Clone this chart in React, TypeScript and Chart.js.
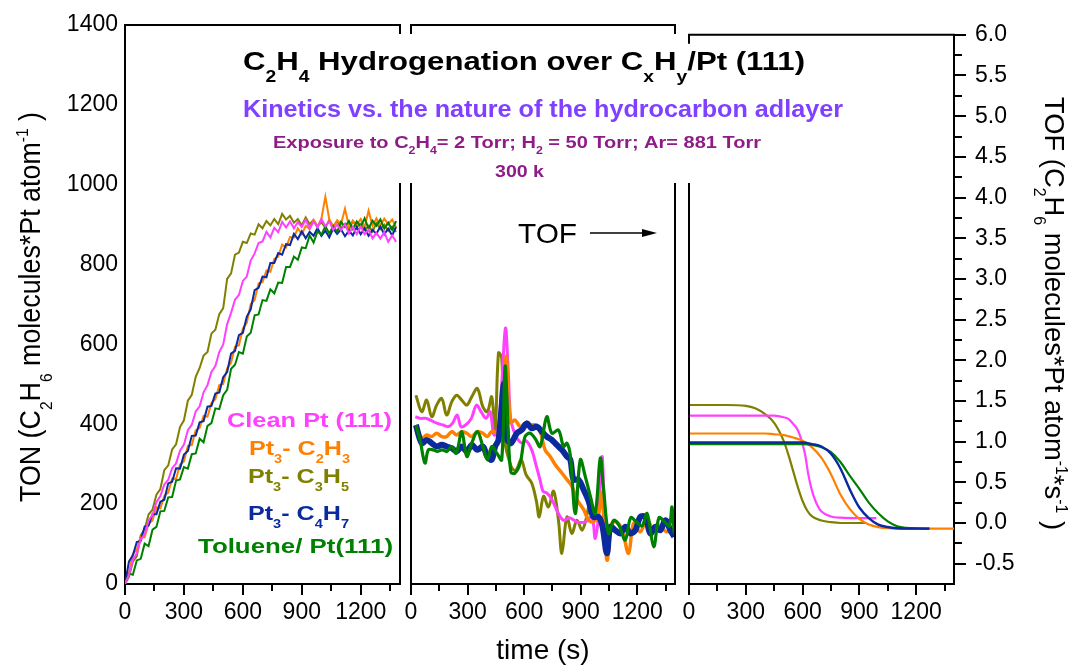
import React, { useEffect, useRef } from 'react';
import { Chart, registerables } from 'chart.js';

Chart.register(...registerables);

const FONT = "'Liberation Sans', Arial, sans-serif";
const W = 1078;
const H = 668;

// ---------------- colours ----------------
const C_CLEAN = '#ff40ff';
const C_C2H3 = '#ff8000';
const C_C3H5 = '#808000';
const C_C4H7 = '#0a2a9e';
const C_TOL = '#008000';

// ---------------- ticks ----------------
const timeTicks = [0, 300, 600, 900, 1200];
const timeMinorTicks = [150, 450, 750, 1050, 1350];
const tonTicks = [0, 200, 400, 600, 800, 1000, 1200, 1400];
const tofTicks = [-0.5, 0, 0.5, 1, 1.5, 2, 2.5, 3, 3.5, 4, 4.5, 5, 5.5, 6];
const tofMinorTicks = [-0.25, 0.25, 0.75, 1.25, 1.75, 2.25, 2.75, 3.25, 3.75, 4.25, 4.75, 5.25, 5.75];

// ---------------- left panel: TON vs time ----------------
const tonTime = [0, 20, 40, 60, 80, 100, 120, 140, 160, 180, 200, 220, 240, 260, 280, 300, 320, 340, 360, 380, 400, 420, 440, 460, 480, 500, 520, 540, 560, 580, 600, 620, 640, 660, 680, 700, 720, 740, 760, 780, 800, 820, 840, 860, 880, 900, 920, 940, 960, 980, 1000, 1020, 1040, 1060, 1080, 1100, 1120, 1140, 1160, 1180, 1200, 1220, 1240, 1260, 1280, 1300, 1320, 1340, 1360, 1380];
const tonC3H5 = [0, 18, 56, 69, 122, 137, 174, 186, 224, 238, 285, 297, 337, 350, 393, 410, 459, 474, 519, 541, 572, 581, 627, 637, 676, 691, 764, 778, 825, 830, 857, 854, 878, 875, 901, 891, 909, 898, 914, 901, 927, 913, 922, 905, 914, 898, 918, 901, 912, 896, 906, 892, 912, 896, 909, 892, 902, 887, 909, 894, 902, 887, 897, 883, 904, 889, 900, 885, 895, 882];
const tonClean = [0, 23, 61, 77, 112, 124, 159, 173, 205, 220, 249, 261, 290, 302, 334, 349, 385, 399, 432, 445, 480, 498, 531, 546, 581, 600, 651, 679, 712, 724, 759, 770, 810, 828, 854, 858, 882, 868, 892, 881, 907, 893, 908, 891, 906, 894, 912, 890, 908, 893, 914, 896, 908, 887, 900, 886, 902, 878, 894, 876, 895, 876, 887, 866, 879, 865, 881, 857, 873, 857];
const tonC4H7 = [0, 56, 72, 105, 108, 144, 146, 175, 175, 206, 211, 252, 256, 290, 289, 324, 333, 371, 372, 405, 408, 444, 446, 477, 480, 518, 531, 577, 584, 623, 629, 669, 688, 736, 742, 770, 768, 804, 804, 829, 825, 851, 849, 877, 864, 883, 866, 882, 872, 891, 872, 885, 868, 890, 877, 888, 871, 885, 873, 894, 876, 891, 872, 887, 877, 895, 876, 890, 873, 894];
const tonC2H3 = [0, 28, 75, 86, 118, 117, 151, 159, 192, 189, 221, 229, 264, 263, 299, 307, 346, 348, 385, 391, 421, 419, 453, 463, 498, 501, 540, 554, 594, 598, 640, 654, 701, 711, 753, 756, 785, 782, 814, 820, 850, 843, 869, 868, 891, 876, 897, 889, 911, 895, 915, 970, 913, 894, 911, 902, 940, 896, 910, 899, 914, 893, 935, 897, 916, 898, 915, 901, 913, 894];
const tonToluene = [0, 26, 23, 59, 63, 101, 95, 136, 143, 182, 183, 217, 218, 259, 262, 293, 289, 325, 327, 364, 355, 396, 403, 440, 438, 473, 486, 539, 549, 581, 577, 620, 629, 673, 675, 711, 709, 738, 728, 755, 754, 794, 794, 820, 812, 843, 841, 873, 855, 883, 875, 896, 878, 896, 882, 907, 894, 909, 889, 908, 895, 916, 890, 910, 897, 913, 890, 905, 887, 909];

// ---------------- middle panel: measured TOF ----------------
const midTimeC3H5 = [26, 57, 83, 110, 136, 163, 189, 216, 242, 269, 296, 322, 352, 381, 405, 428, 446, 464, 481, 497, 531, 555, 585, 610, 640, 665, 680, 703, 729, 756, 782, 800, 827, 853, 880, 907, 930, 950];
const midC3H5 = [1.53, 1.33, 1.47, 1.27, 1.41, 1.49, 1.29, 1.45, 1.53, 1.47, 1.41, 1.51, 1.61, 1.39, 1.33, 1.51, 1.09, 2.04, 1.98, 0.99, 0.67, 0.62, 0.75, 0.57, 0.47, 0.25, 0.06, 0.31, 0.18, 0.37, 0.02, -0.38, 0.06, -0.14, 0.02, -0.1, 0.05, 0.3];
const midTimeClean = [23, 50, 80, 110, 140, 170, 196, 220, 245, 265, 290, 320, 347, 372, 398, 420, 440, 462, 482, 501, 515, 528, 545, 565, 590, 610, 640, 665, 685, 700, 720, 747, 782, 809, 840, 880, 924, 959, 977, 995, 1013, 1025, 1035];
const midClean = [1.27, 1.25, 1.25, 1.22, 1.19, 1.17, 1.15, 1.19, 1.29, 1.15, 1.17, 1.25, 1.41, 1.33, 1.25, 1.33, 1.05, 1.12, 1.7, 2.34, 1.85, 1.25, 1.1, 1.0, 0.95, 0.98, 0.87, 0.67, 0.5, 0.37, 0.35, 0.27, 0.1, 0.02, 0.05, 0.0, 0.0, 0.06, -0.2, 0.1, 0.79, 0.2, -0.05];
const midTimeC2H3 = [26, 57, 83, 110, 136, 163, 189, 216, 242, 269, 296, 322, 352, 381, 405, 428, 455, 481, 504, 528, 552, 579, 605, 632, 658, 685, 711, 738, 765, 800, 827, 853, 880, 915, 942, 968, 995, 1012, 1039, 1066, 1092, 1120, 1154, 1180, 1215, 1250, 1285, 1320, 1355, 1396];
const midC2H3 = [1.17, 1.01, 1.05, 1.03, 1.07, 1.03, 1.03, 1.09, 1.05, 1.09, 1.07, 1.03, 1.09, 1.07, 1.03, 1.09, 1.07, 0.99, 2.0, 1.2, 1.23, 1.15, 1.19, 1.17, 1.17, 1.09, 0.87, 0.79, 0.69, 0.59, 0.51, 0.43, 0.27, 0.15, 0.02, 0.0, 0.1, 0.35, -0.46, -0.02, 0.0, -0.1, -0.38, -0.02, -0.12, 0.02, -0.08, -0.04, -0.12, -0.08];
const midTimeC4H7 = [26, 57, 83, 110, 136, 163, 189, 216, 242, 269, 296, 322, 352, 381, 405, 428, 446, 464, 494, 510, 530, 561, 587, 614, 640, 667, 694, 720, 747, 773, 800, 827, 845, 862, 888, 915, 942, 968, 995, 1015, 1039, 1057, 1083, 1110, 1137, 1163, 1190, 1216, 1243, 1269, 1296, 1322, 1349, 1375, 1396];
const midC4H7 = [1.17, 0.95, 0.99, 0.95, 0.91, 0.93, 0.91, 0.89, 0.85, 0.91, 0.85, 0.93, 0.87, 0.91, 0.79, 0.75, 0.91, 0.99, 1.67, 1.0, 0.95, 1.07, 1.11, 1.19, 1.13, 1.15, 1.09, 1.03, 0.99, 0.93, 0.87, 0.79, 0.75, 0.51, 0.51, 0.39, 0.25, 0.06, 0.06, -0.05, -0.38, -0.06, -0.1, -0.14, -0.06, -0.14, -0.1, 0.06, 0.06, -0.14, -0.06, -0.1, 0.02, -0.1, -0.18];
const midTimeToluene = [26, 48, 74, 92, 118, 140, 165, 190, 215, 240, 269, 296, 322, 352, 381, 405, 428, 455, 481, 499, 515, 530, 552, 579, 605, 632, 660, 685, 720, 747, 782, 809, 827, 845, 871, 898, 924, 951, 977, 1004, 1021, 1048, 1075, 1105, 1136, 1165, 1195, 1225, 1252, 1287, 1315, 1345, 1370, 1384, 1396];
const midToluene = [1.17, 0.99, 0.71, 0.87, 0.87, 0.85, 0.87, 0.85, 0.91, 0.83, 1.09, 0.79, 0.95, 1.09, 0.91, 0.75, 0.91, 0.83, 0.75, 1.88, 1.1, 0.6, 0.59, 0.71, 1.03, 1.07, 1.0, 0.91, 1.27, 1.07, 1.11, 0.91, 0.95, 0.8, 0.1, 0.75, 0.55, 0.31, 0.1, 0.77, 0.4, -0.14, 0.02, -0.05, -0.22, 0.05, 0.0, -0.05, 0.1, -0.3, 0.05, 0.0, -0.05, 0.18, -0.14];

// ---------------- right panel: fitted TOF ----------------
const fitTimeC3H5 = [0, 100, 200, 300, 350, 400, 450, 500, 525, 550, 575, 600, 625, 650, 700, 750, 800, 850, 935];
const fitC3H5 = [1.45, 1.45, 1.45, 1.44, 1.41, 1.34, 1.23, 1.01, 0.84, 0.64, 0.44, 0.27, 0.15, 0.08, 0.03, 0.01, 0.0, 0.0, 0.0];
const fitTimeClean = [0, 100, 200, 300, 400, 450, 500, 525, 550, 575, 600, 615, 630, 645, 660, 680, 700, 750, 800, 900, 990];
const fitClean = [1.32, 1.32, 1.32, 1.32, 1.32, 1.32, 1.3, 1.28, 1.22, 1.14, 0.97, 0.82, 0.6, 0.44, 0.32, 0.21, 0.14, 0.08, 0.065, 0.06, 0.06];
const fitTimeC2H3 = [0, 100, 200, 300, 400, 450, 500, 550, 600, 650, 700, 750, 800, 850, 900, 950, 1000, 1050, 1100, 1200, 1300, 1400];
const fitC2H3 = [1.1, 1.1, 1.1, 1.1, 1.1, 1.09, 1.08, 1.05, 1.01, 0.93, 0.8, 0.6, 0.35, 0.17, 0.05, -0.02, -0.05, -0.065, -0.07, -0.07, -0.07, -0.07];
const fitTimeC4H7 = [0, 100, 200, 300, 400, 500, 600, 650, 700, 750, 800, 850, 900, 950, 1000, 1050, 1100, 1150, 1200, 1270];
const fitC4H7 = [0.99, 0.99, 0.99, 0.99, 0.99, 0.99, 0.99, 0.97, 0.94, 0.85, 0.67, 0.41, 0.19, 0.06, -0.02, -0.05, -0.065, -0.07, -0.07, -0.07];
const fitTimeToluene = [0, 100, 200, 300, 400, 500, 600, 650, 700, 750, 800, 850, 900, 950, 1000, 1050, 1100, 1150, 1200, 1270];
const fitToluene = [0.97, 0.97, 0.97, 0.97, 0.97, 0.97, 0.97, 0.96, 0.93, 0.87, 0.75, 0.58, 0.42, 0.25, 0.12, 0.02, -0.04, -0.06, -0.065, -0.07];

// ---------------- rich text helper ----------------
type Seg = [string, number]; // 0 normal, 1 subscript, 2 superscript

function segFont(st: any, k: number) {
  const s = k === 0 ? st.size : st.size * (st.subScale ?? 0.6);
  return `${st.weight ?? 'normal'} ${s}px ${FONT}`;
}

function drawRich(ctx: CanvasRenderingContext2D, segs: Seg[], st: any, pl: any) {
  ctx.save();
  let nat = 0;
  for (const [t, k] of segs) {
    ctx.font = segFont(st, k);
    nat += ctx.measureText(t).width;
  }
  ctx.translate(pl.x, pl.y);
  if (pl.rot) ctx.rotate(pl.rot);
  const sx = pl.width ? pl.width / nat : 1;
  ctx.scale(sx, pl.sy ?? 1);
  let cx = pl.align === 'center' ? -nat / 2 : pl.align === 'right' ? -nat : 0;
  ctx.fillStyle = st.color;
  ctx.textAlign = 'left';
  ctx.textBaseline = 'alphabetic';
  for (const [t, k] of segs) {
    ctx.font = segFont(st, k);
    const dy = k === 1 ? st.size * (st.subDy ?? 0.4) : k === 2 ? -st.size * (st.supDy ?? 0.45) : 0;
    ctx.fillText(t, cx, dy);
    cx += ctx.measureText(t).width;
  }
  ctx.restore();
}

// ---------------- frame / tick helpers ----------------
const BREAK_Y = 184;
const STUB = 8;

function drawFrame(chart: any, leftStub: boolean, rightStub: boolean) {
  const { ctx, chartArea: ca } = chart;
  ctx.save();
  ctx.strokeStyle = '#000';
  ctx.lineWidth = 2;
  ctx.lineCap = 'square';
  ctx.beginPath();
  ctx.moveTo(ca.left, ca.top);
  ctx.lineTo(ca.right, ca.top);
  if (leftStub) {
    ctx.moveTo(ca.left, ca.top);
    ctx.lineTo(ca.left, ca.top + STUB);
    ctx.moveTo(ca.left, BREAK_Y);
    ctx.lineTo(ca.left, ca.bottom);
  }
  if (rightStub) {
    ctx.moveTo(ca.right, ca.top);
    ctx.lineTo(ca.right, ca.top + STUB);
    ctx.moveTo(ca.right, BREAK_Y);
    ctx.lineTo(ca.right, ca.bottom);
  }
  ctx.stroke();
  ctx.restore();
}

function drawXTicks(chart: any) {
  const { ctx, chartArea: ca } = chart;
  const s = chart.scales.x;
  ctx.save();
  ctx.strokeStyle = '#000';
  ctx.lineWidth = 2;
  ctx.beginPath();
  for (const v of timeTicks) {
    const p = Math.round(s.getPixelForValue(v));
    ctx.moveTo(p, ca.bottom);
    ctx.lineTo(p, ca.bottom + 11);
  }
  for (const v of timeMinorTicks) {
    const p = Math.round(s.getPixelForValue(v));
    ctx.moveTo(p, ca.bottom);
    ctx.lineTo(p, ca.bottom + 7);
  }
  ctx.stroke();
  ctx.restore();
}

function drawRightYTicks(chart: any) {
  const { ctx, chartArea: ca } = chart;
  const s = chart.scales.y;
  ctx.save();
  ctx.strokeStyle = '#000';
  ctx.lineWidth = 2;
  ctx.beginPath();
  for (const v of tofTicks) {
    const p = Math.round(s.getPixelForValue(v));
    ctx.moveTo(ca.right, p);
    ctx.lineTo(ca.right + 12, p);
  }
  for (const v of tofMinorTicks) {
    const p = Math.round(s.getPixelForValue(v));
    ctx.moveTo(ca.right, p);
    ctx.lineTo(ca.right + 8, p);
  }
  ctx.stroke();
  ctx.restore();
}

// ---------------- plugins ----------------
const legendStyle = (color: string) => ({ size: 21, weight: 'bold', color, subScale: 0.58, subDy: 0.38 });

const decoLeft = {
  id: 'decoLeft',
  afterDraw(chart: any) {
    const ctx = chart.ctx;
    drawFrame(chart, false, true);
    drawXTicks(chart);

    // headings
    drawRich(ctx, [['C', 0], ['2', 1], ['H', 0], ['4', 1], [' Hydrogenation over C', 0], ['x', 1], ['H', 0], ['y', 1], ['/Pt (111)', 0]],
      { size: 26, weight: 'bold', color: '#000', subScale: 0.62, subDy: 0.46 }, { x: 243, y: 70, width: 562 });
    drawRich(ctx, [['Kinetics vs. the nature of the hydrocarbon adlayer', 0]],
      { size: 23, weight: 'bold', color: '#8040ff' }, { x: 243, y: 117, width: 600 });
    drawRich(ctx, [['Exposure to C', 0], ['2', 1], ['H', 0], ['4', 1], ['= 2 Torr; H', 0], ['2', 1], [' = 50 Torr; Ar= 881 Torr', 0]],
      { size: 17, weight: 'bold', color: '#8e1b86', subScale: 0.62, subDy: 0.38 }, { x: 273, y: 148, width: 488 });
    drawRich(ctx, [['300 k', 0]], { size: 17, weight: 'bold', color: '#8e1b86' }, { x: 495, y: 177, width: 49 });

    // legend
    drawRich(ctx, [['Clean Pt (111)', 0]], legendStyle(C_CLEAN), { x: 227, y: 427, width: 165 });
    drawRich(ctx, [['Pt', 0], ['3', 1], ['- C', 0], ['2', 1], ['H', 0], ['3', 1]], legendStyle(C_C2H3), { x: 249, y: 455, width: 101 });
    drawRich(ctx, [['Pt', 0], ['3', 1], ['- C', 0], ['3', 1], ['H', 0], ['5', 1]], legendStyle(C_C3H5), { x: 248, y: 483, width: 101 });
    drawRich(ctx, [['Pt', 0], ['3', 1], ['- C', 0], ['4', 1], ['H', 0], ['7', 1]], legendStyle(C_C4H7), { x: 248, y: 520, width: 101 });
    drawRich(ctx, [['Toluene/ Pt(111)', 0]], legendStyle(C_TOL), { x: 198, y: 553, width: 195 });

    // left axis title
    drawRich(ctx, [['TON (C', 0], ['2', 1], ['H', 0], ['6', 1], [' molecules*Pt atom', 0], ['-1', 2], [' )', 0]],
      { size: 27, color: '#000', subScale: 0.58, subDy: 0.42, supDy: 0.42 },
      { x: 40, y: 502, rot: -Math.PI / 2, width: 390, sy: 1.1 });
  },
};

const decoMid = {
  id: 'decoMid',
  afterDraw(chart: any) {
    const ctx = chart.ctx;
    drawFrame(chart, true, true);
    drawXTicks(chart);
    drawRich(ctx, [['TOF', 0]], { size: 28, color: '#000' }, { x: 518, y: 243, width: 59 });
    ctx.save();
    ctx.strokeStyle = '#000';
    ctx.fillStyle = '#000';
    ctx.lineWidth = 1.5;
    ctx.beginPath();
    ctx.moveTo(590, 233);
    ctx.lineTo(645, 233);
    ctx.stroke();
    ctx.beginPath();
    ctx.moveTo(657, 233);
    ctx.lineTo(642, 229);
    ctx.lineTo(642, 237);
    ctx.closePath();
    ctx.fill();
    ctx.restore();
  },
};

const decoRight = {
  id: 'decoRight',
  afterDraw(chart: any) {
    const ctx = chart.ctx;
    drawFrame(chart, true, false);
    drawXTicks(chart);
    drawRightYTicks(chart);
    drawRich(ctx, [['TOF (C', 0], ['2', 1], ['H', 0], ['6', 1], [' molecules*Pt atom', 0], ['-1', 2], ['*s', 0], ['-1', 2], [' )', 0]],
      { size: 27, color: '#000', subScale: 0.58, subDy: 0.42, supDy: 0.42 },
      { x: 1045, y: 97, rot: Math.PI / 2, width: 433, sy: 1.0 });
  },
};

// ---------------- config builders ----------------
const toPts = (xs: number[], ys: number[]) => xs.map((x, i) => ({ x, y: ys[i] }));

const ds = (label: string, xs: number[], ys: number[], color: string, width: number, extra: any = {}) => ({
  label,
  data: toPts(xs, ys),
  borderColor: color,
  backgroundColor: color,
  borderWidth: width,
  pointRadius: 0,
  fill: false,
  tension: 0,
  ...extra,
});

const tickFont = { family: FONT, size: 23 };

const timeAxis = (title?: string) => ({
  type: 'linear',
  min: 0,
  max: 1400,
  grid: { display: false, drawTicks: false },
  border: { display: true, color: '#000', width: 2 },
  afterBuildTicks: (s: any) => { s.ticks = timeTicks.map((v) => ({ value: v })); },
  ticks: { autoSkip: false, maxRotation: 0, padding: 15, color: '#000', font: tickFont, callback: (v: any) => String(v) },
  title: title
    ? { display: true, text: title, color: '#000', font: { family: FONT, size: 28 }, padding: { top: 0, bottom: 0 } }
    : { display: false },
  afterFit: (s: any) => { s.height = 84; },
});

const baseOptions = (scales: any, padding: any) => ({
  responsive: false,
  animation: false,
  devicePixelRatio: 1,
  events: [],
  layout: { padding },
  plugins: { legend: { display: false }, tooltip: { enabled: false }, title: { display: false } },
  scales,
});

function leftConfig(): any {
  return {
    type: 'line',
    data: {
      datasets: [
        ds('Clean Pt (111)', tonTime, tonClean, C_CLEAN, 2),
        ds('Toluene/ Pt(111)', tonTime, tonToluene, C_TOL, 2),
        ds('Pt3- C4H7', tonTime, tonC4H7, C_C4H7, 2),
        ds('Pt3- C2H3', tonTime, tonC2H3, C_C2H3, 2),
        ds('Pt3- C3H5', tonTime, tonC3H5, C_C3H5, 2),
      ],
    },
    options: baseOptions(
      {
        x: timeAxis(),
        y: {
          type: 'linear',
          position: 'left',
          min: 0,
          max: 1400,
          grid: { display: false, drawTicks: false },
          border: { display: true, color: '#000', width: 2 },
          afterBuildTicks: (s: any) => { s.ticks = tonTicks.map((v) => ({ value: v })); },
          ticks: { padding: 7, color: '#000', font: tickFont, callback: (v: any) => String(v) },
          afterFit: (s: any) => { s.width = 125; },
        },
      },
      { left: 0, right: W - 400, top: 25, bottom: 0 }
    ),
    plugins: [decoLeft],
  };
}

function midConfig(): any {
  const sm = { tension: 0.35 };
  return {
    type: 'line',
    data: {
      datasets: [
        ds('Toluene/ Pt(111)', midTimeToluene, midToluene, C_TOL, 3.2, sm),
        ds('Pt3- C4H7', midTimeC4H7, midC4H7, C_C4H7, 6, sm),
        ds('Pt3- C2H3', midTimeC2H3, midC2H3, C_C2H3, 3.5, sm),
        ds('Clean Pt (111)', midTimeClean, midClean, C_CLEAN, 3, sm),
        ds('Pt3- C3H5', midTimeC3H5, midC3H5, C_C3H5, 3, sm),
      ],
    },
    options: baseOptions(
      {
        x: timeAxis('time (s)'),
        y: { type: 'linear', display: false, min: -0.75, max: 6 },
      },
      { left: 411, right: W - 675, top: 25, bottom: 0 }
    ),
    plugins: [decoMid],
  };
}

function rightConfig(): any {
  const sm = { cubicInterpolationMode: 'monotone' };
  return {
    type: 'line',
    data: {
      datasets: [
        ds('Pt3- C4H7', fitTimeC4H7, fitC4H7, C_C4H7, 2.4, sm),
        ds('Toluene/ Pt(111)', fitTimeToluene, fitToluene, C_TOL, 2.2, sm),
        ds('Pt3- C2H3', fitTimeC2H3, fitC2H3, C_C2H3, 2.2, sm),
        ds('Clean Pt (111)', fitTimeClean, fitClean, C_CLEAN, 2.2, sm),
        ds('Pt3- C3H5', fitTimeC3H5, fitC3H5, C_C3H5, 2.2, sm),
      ],
    },
    options: baseOptions(
      {
        x: timeAxis(),
        y: {
          type: 'linear',
          position: 'right',
          min: -0.75,
          max: 6,
          grid: { display: false, drawTicks: false },
          border: { display: true, color: '#000', width: 2 },
          afterBuildTicks: (s: any) => { s.ticks = tofTicks.map((v) => ({ value: v })); },
          ticks: { padding: 21, color: '#000', font: tickFont, callback: (v: any) => Number(v).toFixed(1) },
          afterFit: (s: any) => { s.width = W - 954; },
        },
      },
      { left: 689, right: 0, top: 25, bottom: 0 }
    ),
    plugins: [decoRight],
  };
}

export default function App() {
  const r1 = useRef<HTMLCanvasElement>(null);
  const r2 = useRef<HTMLCanvasElement>(null);
  const r3 = useRef<HTMLCanvasElement>(null);

  useEffect(() => {
    const charts = [
      new Chart(r1.current as HTMLCanvasElement, leftConfig()),
      new Chart(r2.current as HTMLCanvasElement, midConfig()),
      new Chart(r3.current as HTMLCanvasElement, rightConfig()),
    ];
    return () => charts.forEach((c) => c.destroy());
  }, []);

  const st: React.CSSProperties = { position: 'absolute', left: 0, top: 0 };
  return (
    <div style={{ position: 'fixed', left: 0, top: 0, width: W, height: H, background: '#fff', overflow: 'hidden' }}>
      <canvas ref={r1} width={W} height={H} style={st} />
      <canvas ref={r2} width={W} height={H} style={st} />
      <canvas ref={r3} width={W} height={H} style={st} />
    </div>
  );
}
